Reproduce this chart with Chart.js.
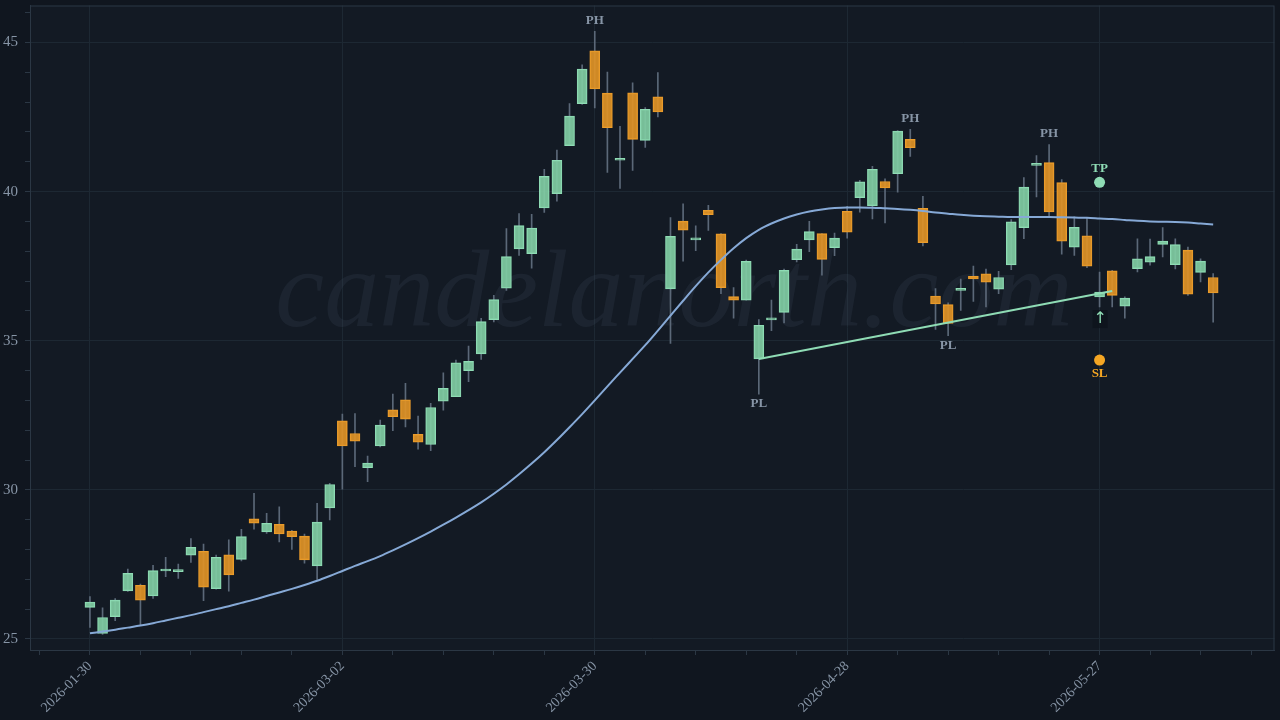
<!DOCTYPE html>
<html>
<head>
<meta charset="utf-8">
<script src="https://cdn.jsdelivr.net/npm/chart.js@4.4.1/dist/chart.umd.min.js"></script>
<style>
  html, body { margin: 0; padding: 0; background: #10161f; }
  #wrap { width: 1280px; height: 720px; }
</style>
</head>
<body>
<div id="wrap"><canvas id="chart"></canvas></div>
<script>
// Trading days (one candle each)
const dates = [
  '2026-01-30',
  '2026-02-02', '2026-02-03', '2026-02-04', '2026-02-05', '2026-02-06',
  '2026-02-09', '2026-02-10', '2026-02-11', '2026-02-12', '2026-02-13',
  '2026-02-17', '2026-02-18', '2026-02-19', '2026-02-20',
  '2026-02-23', '2026-02-24', '2026-02-25', '2026-02-26', '2026-02-27',
  '2026-03-02', '2026-03-03', '2026-03-04', '2026-03-05', '2026-03-06',
  '2026-03-09', '2026-03-10', '2026-03-11', '2026-03-12', '2026-03-13',
  '2026-03-16', '2026-03-17', '2026-03-18', '2026-03-19', '2026-03-20',
  '2026-03-23', '2026-03-24', '2026-03-25', '2026-03-26', '2026-03-27',
  '2026-03-30', '2026-03-31', '2026-04-01', '2026-04-02',
  '2026-04-06', '2026-04-07', '2026-04-08', '2026-04-09', '2026-04-10',
  '2026-04-13', '2026-04-14', '2026-04-15', '2026-04-16', '2026-04-17',
  '2026-04-20', '2026-04-21', '2026-04-22', '2026-04-23', '2026-04-24',
  '2026-04-27', '2026-04-28', '2026-04-29', '2026-04-30', '2026-05-01',
  '2026-05-04', '2026-05-05', '2026-05-06', '2026-05-07', '2026-05-08',
  '2026-05-11', '2026-05-12', '2026-05-13', '2026-05-14', '2026-05-15',
  '2026-05-18', '2026-05-19', '2026-05-20', '2026-05-21', '2026-05-22',
  '2026-05-26', '2026-05-27', '2026-05-28', '2026-05-29',
  '2026-06-01', '2026-06-02', '2026-06-03', '2026-06-04', '2026-06-05',
  '2026-06-08', '2026-06-09'
];

const opens = [
  26.06, 25.19, 25.75, 26.61, 26.80, 26.44, 27.28, 27.26, 27.81, 27.94,
  26.69, 27.82, 27.67, 29.03, 28.59, 28.84, 28.62, 28.45, 27.45, 29.39,
  32.31, 31.89, 30.74, 31.47, 32.68, 33.02, 31.86, 31.52, 32.97, 33.12,
  34.00, 34.56, 35.71, 36.76, 38.08, 37.92, 39.45, 39.93, 41.54, 42.95,
  44.72, 43.30, 41.05, 43.31, 41.72, 43.18, 36.74, 39.01, 38.38, 39.37,
  38.58, 36.48, 36.36, 34.39, 35.70, 35.95, 37.72, 38.38, 38.59, 38.12,
  39.34, 39.80, 39.52, 40.34, 40.60, 41.75, 39.44, 36.50, 36.21, 36.69,
  37.16, 37.24, 36.73, 37.54, 38.79, 40.88, 40.97, 40.30, 38.14, 38.52,
  36.47, 37.34, 36.16, 37.42, 37.63, 38.23, 37.55, 38.04, 37.29, 37.12
];
const highs = [
  26.42, 26.04, 26.35, 27.34, 26.84, 27.47, 27.74, 27.51, 28.37, 28.18,
  27.81, 28.32, 28.68, 29.88, 29.21, 29.43, 28.64, 28.52, 29.55, 30.22,
  32.54, 32.56, 31.13, 32.34, 33.21, 33.57, 32.47, 32.90, 33.92, 34.35,
  34.82, 35.75, 36.52, 38.76, 39.26, 39.24, 40.75, 41.39, 42.95, 44.25,
  45.37, 44.01, 42.19, 43.65, 42.82, 43.99, 39.13, 39.59, 38.85, 39.54,
  38.59, 36.78, 37.70, 35.71, 36.36, 37.40, 38.23, 39.00, 38.59, 38.61,
  39.51, 40.38, 40.85, 40.43, 42.05, 42.09, 39.84, 36.75, 36.27, 37.07,
  37.50, 37.40, 37.33, 39.06, 40.47, 41.21, 41.58, 40.40, 39.15, 39.11,
  37.30, 37.36, 36.47, 38.42, 38.41, 38.79, 38.42, 38.14, 37.75, 37.25
];
const lows = [
  25.39, 25.15, 25.61, 26.59, 25.47, 26.36, 27.09, 27.03, 27.57, 26.28,
  26.67, 26.60, 27.62, 28.68, 28.54, 28.25, 28.00, 27.54, 27.00, 28.99,
  30.02, 30.78, 30.27, 31.44, 31.98, 32.11, 31.36, 31.31, 32.67, 33.12,
  33.63, 34.37, 35.63, 36.69, 37.86, 37.43, 39.30, 39.68, 41.54, 42.92,
  42.81, 40.64, 40.11, 40.71, 41.48, 42.50, 34.91, 37.67, 38.02, 38.70,
  36.58, 35.76, 36.36, 33.21, 35.34, 35.60, 37.64, 37.99, 37.20, 37.85,
  38.44, 39.31, 39.08, 38.95, 39.98, 41.18, 38.18, 35.38, 35.17, 36.02,
  36.32, 36.13, 36.58, 37.38, 38.42, 39.82, 39.15, 37.90, 37.86, 37.45,
  36.13, 36.13, 35.76, 37.31, 37.53, 37.81, 37.41, 36.52, 36.97, 35.62
];
const closes = [
  26.24, 25.72, 26.30, 27.20, 26.30, 27.29, 27.32, 27.29, 28.07, 26.74,
  27.74, 27.15, 28.43, 28.88, 28.88, 28.52, 28.43, 27.65, 28.92, 30.18,
  31.47, 31.63, 30.90, 32.17, 32.45, 32.37, 31.60, 32.76, 33.40, 34.26,
  34.31, 35.64, 36.38, 37.82, 38.86, 38.78, 40.51, 41.05, 42.53, 44.11,
  43.44, 42.14, 41.08, 41.75, 42.76, 42.67, 38.50, 38.71, 38.40, 39.23,
  36.78, 36.36, 37.66, 35.52, 35.73, 37.36, 38.07, 38.66, 37.73, 38.44,
  38.64, 40.33, 40.75, 40.12, 42.03, 41.47, 38.29, 36.23, 35.58, 36.71,
  37.07, 36.96, 37.12, 38.99, 40.15, 40.92, 39.32, 38.34, 38.80, 37.50,
  36.63, 36.52, 36.43, 37.75, 37.82, 38.34, 38.22, 36.56, 37.67, 36.60
];

// smoothed average line at each candle
const maValues = [
  25.19, 25.25, 25.31, 25.38, 25.45, 25.53, 25.62, 25.71, 25.80, 25.90,
  26.00, 26.10, 26.21, 26.32, 26.44, 26.56, 26.68, 26.81, 26.95, 27.11,
  27.28, 27.45, 27.61, 27.78, 27.97, 28.17, 28.38, 28.60, 28.83, 29.07,
  29.32, 29.58, 29.87, 30.18, 30.52, 30.88, 31.26, 31.67, 32.10, 32.54,
  33.00, 33.47, 33.93, 34.39, 34.85, 35.34, 35.84, 36.34, 36.83, 37.29,
  37.71, 38.10, 38.44, 38.72, 38.93, 39.10, 39.23, 39.33, 39.40, 39.45,
  39.47, 39.47, 39.46, 39.44, 39.42, 39.39, 39.35, 39.30, 39.26, 39.22,
  39.19, 39.17, 39.16, 39.15, 39.15, 39.15, 39.15, 39.14, 39.13, 39.12,
  39.10, 39.08, 39.05, 39.02, 39.00, 38.99, 38.98, 38.96, 38.93, 38.90
];

// support line through the two pivot lows, extended
const trendX = [53, 81];
const trendY = [34.39, 36.67];

const pivotHighs = [40, 65, 76];
const pivotLows = [53, 68];

const signalIndex = 80;
const takeProfit = 40.31;
const stopLoss = 34.35;

const GREEN = '#8fdcb5';
const GREEN_FILL = 'rgba(128, 204, 163, 0.92)';
const ORANGE = '#eb9d2c';
const ORANGE_FILL = 'rgba(224, 146, 38, 0.92)';
const WICK = '#5b6878';
const GRID = '#1d2833';
const AXIS = '#2b3744';
const TEXT = '#8795a6';
const FONT = '"Liberation Serif", serif';

const isUp = opens.map((o, i) => closes[i] >= o);

const bgPlugin = {
    id: 'bg',
    beforeDraw(chart) {
        const { ctx, chartArea: a } = chart;
        ctx.save();
        ctx.fillStyle = '#10161f';
        ctx.fillRect(0, 0, chart.width, chart.height);
        ctx.fillStyle = '#131a24';
        ctx.fillRect(a.left, a.top, a.right - a.left, a.bottom - a.top);
        ctx.restore();
    },
    beforeDatasetsDraw(chart) {
        const { ctx, chartArea: a } = chart;
        ctx.save();
        ctx.font = 'italic 110px ' + FONT;
        ctx.fillStyle = 'rgba(60, 72, 86, 0.24)';
        ctx.textAlign = 'center';
        ctx.textBaseline = 'alphabetic';
        ctx.fillText('candelanorth.com', 674, a.top + 320);
        ctx.restore();
    },
    afterDraw(chart) {
        const { ctx, chartArea: a } = chart;
        ctx.save();
        ctx.strokeStyle = AXIS;
        ctx.lineWidth = 1;
        ctx.strokeRect(a.left + 0.5, a.top + 0.5, a.right - a.left - 1, a.bottom - a.top);
        ctx.restore();
    }
};

const labelPlugin = {
    id: 'labels',
    afterDatasetsDraw(chart) {
        const { ctx } = chart;
        const x = chart.scales.x, y = chart.scales.y;
        ctx.save();
        ctx.textAlign = 'center';
        ctx.textBaseline = 'middle';
        ctx.font = 'bold 13px ' + FONT;
        ctx.fillStyle = TEXT;
        pivotHighs.forEach(i => {
            ctx.fillText('PH', x.getPixelForValue(i), y.getPixelForValue(highs[i]) - 11);
        });
        pivotLows.forEach(i => {
            ctx.fillText('PL', x.getPixelForValue(i), y.getPixelForValue(lows[i]) + 10);
        });

        const sx = x.getPixelForValue(signalIndex);
        ctx.fillStyle = GREEN;
        ctx.fillText('TP', sx, y.getPixelForValue(takeProfit) - 14);
        ctx.fillStyle = '#f5a623';
        ctx.fillText('SL', sx, y.getPixelForValue(stopLoss) + 14);

        // entry arrow under the signal candle
        const ay = y.getPixelForValue(lows[signalIndex]) + 11;
        ctx.fillStyle = 'rgba(14, 19, 27, 0.8)';
        ctx.fillRect(sx - 7, ay - 8, 15, 18);
        ctx.fillStyle = GREEN;
        ctx.font = '16px "DejaVu Sans", sans-serif';
        ctx.fillText('\u2191', sx + 0.5, ay + 1);
        ctx.restore();
    }
};

const noPad = s => {
    s.paddingTop = 0;
    s.paddingBottom = 0;
    s.paddingLeft = 0;
    s.paddingRight = 0;
};

const ctx = document.getElementById('chart').getContext('2d');
new Chart(ctx, {
    type: 'bar',
    data: {
        datasets: [
            {
                label: 'wicks',
                data: lows.map((l, i) => ({ x: i, y: [l, highs[i]] })),
                backgroundColor: WICK,
                barThickness: 1,
                grouped: false,
                order: 4
            },
            {
                label: 'bodies',
                data: opens.map((o, i) => ({ x: i, y: [o, closes[i]] })),
                backgroundColor: isUp.map(u => u ? GREEN_FILL : ORANGE_FILL),
                borderColor: isUp.map(u => u ? GREEN : ORANGE),
                borderWidth: 1,
                borderSkipped: false,
                barThickness: 10,
                minBarLength: 2,
                grouped: false,
                order: 3
            },
            {
                type: 'line',
                label: 'MA',
                data: maValues.map((v, i) => ({ x: i, y: v })),
                borderColor: '#86a9d6',
                borderWidth: 2,
                pointRadius: 0,
                cubicInterpolationMode: 'monotone',
                order: 2
            },
            {
                type: 'line',
                label: 'trend',
                data: trendX.map((v, i) => ({ x: v, y: trendY[i] })),
                borderColor: GREEN,
                borderWidth: 2,
                pointRadius: 0,
                order: 1
            },
            {
                type: 'scatter',
                label: 'TP',
                data: [{ x: signalIndex, y: takeProfit }],
                backgroundColor: GREEN,
                borderWidth: 0,
                pointRadius: 5.5,
                order: 0
            },
            {
                type: 'scatter',
                label: 'SL',
                data: [{ x: signalIndex, y: stopLoss }],
                backgroundColor: '#f5a623',
                borderWidth: 0,
                pointRadius: 5.5,
                order: 0
            }
        ]
    },
    options: {
        responsive: true,
        maintainAspectRatio: false,
        animation: false,
        layout: { padding: { top: 5, right: 5, left: 0, bottom: 0 } },
        plugins: { legend: { display: false }, tooltip: { enabled: false } },
        scales: {
            x: {
                type: 'linear',
                min: -4.75,
                max: 93.86,
                offset: false,
                afterFit: s => { s.height = 70; noPad(s); },
                ticks: {
                    stepSize: 4,
                    autoSkip: false,
                    includeBounds: false,
                    maxRotation: 45,
                    minRotation: 45,
                    padding: 3,
                    color: TEXT,
                    font: { family: FONT, size: 14 },
                    callback: v => (v % 20 === 0 && dates[v]) ? dates[v] : ''
                },
                grid: {
                    offset: false,
                    color: c => (c.tick && c.tick.value % 20 === 0) ? GRID : 'transparent',
                    tickColor: AXIS,
                    tickLength: 5
                },
                border: { color: AXIS }
            },
            y: {
                min: 24.63,
                max: 46.24,
                afterFit: s => { s.width = 30; noPad(s); },
                ticks: {
                    stepSize: 1,
                    includeBounds: false,
                    padding: 7,
                    color: TEXT,
                    font: { family: FONT, size: 15 },
                    callback: v => v % 5 === 0 ? v : ''
                },
                grid: {
                    color: c => (c.tick && c.tick.value % 5 === 0) ? GRID : 'transparent',
                    tickColor: AXIS,
                    tickLength: 5
                },
                border: { color: AXIS }
            }
        }
    },
    plugins: [bgPlugin, labelPlugin]
});
</script>
</body>
</html>
